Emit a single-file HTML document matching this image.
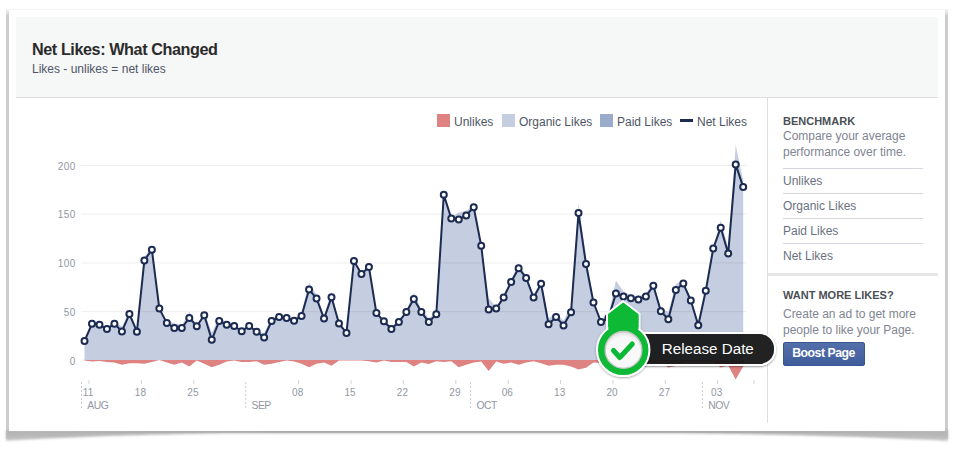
<!DOCTYPE html>
<html><head><meta charset="utf-8">
<style>
*{margin:0;padding:0;box-sizing:border-box}
html,body{width:954px;height:455px;overflow:hidden;background:#fff}
body{position:relative;font-family:"Liberation Sans",sans-serif}
.abs{position:absolute;white-space:nowrap}
#card{position:absolute;left:9px;top:10px;width:936px;height:421px;background:#fff}
#header{position:absolute;left:16px;top:17px;width:922px;height:81px;background:#f6f7f7;border-bottom:1px solid #dcdee0}
.title{left:32px;top:39.6px;font-size:16.2px;letter-spacing:-0.42px;font-weight:bold;color:#2b2b2b;line-height:18px}
.sub{left:32px;top:62px;font-size:12px;color:#4e5665;line-height:14px}
.leg{font-size:12px;color:#4e5665;line-height:14px}
.sw{position:absolute;width:13px;height:13px}
#vdiv{position:absolute;left:767px;top:98px;width:1px;height:325px;background:#dcdee0}
.sb{font-size:12px;letter-spacing:-0.02px;color:#7f8592;line-height:16px}
.sbh{font-size:11px;font-weight:bold;color:#4b4f56;line-height:13px}
.sbl{position:absolute;left:783px;width:140px;height:1px;background:#d3d6dc}
.item{font-size:12px;color:#6a7180;line-height:14px}
</style></head><body>
<!-- shadow -->
<div style="position:absolute;left:6.2px;top:9px;width:2.8px;height:430px;background:linear-gradient(rgba(205,205,205,0.2),#cdcdcd 7px);filter:blur(0.5px)"></div>
<div style="position:absolute;left:945px;top:9px;width:2.8px;height:430px;background:linear-gradient(rgba(205,205,205,0.2),#cdcdcd 7px);filter:blur(0.5px)"></div>
<div style="position:absolute;left:8px;top:9px;width:938px;height:1px;background:#f5f5f5"></div>
<svg width="954" height="455" style="position:absolute;left:0;top:0">
<defs><linearGradient id="bsh" x1="0" y1="0" x2="0" y2="1"><stop offset="0" stop-color="#b2b2b2"/><stop offset="0.6" stop-color="#bababa"/><stop offset="1" stop-color="#cccccc"/></linearGradient>
<filter id="bl"><feGaussianBlur stdDeviation="0.8"/></filter><linearGradient id="mid" x1="0" y1="0" x2="1" y2="0"><stop offset="0" stop-color="#999" stop-opacity="0"/><stop offset="0.3" stop-color="#999" stop-opacity="1"/><stop offset="0.7" stop-color="#999" stop-opacity="1"/><stop offset="1" stop-color="#999" stop-opacity="0"/></linearGradient></defs>
<path d="M6,430 L948,430 L948,441.00 L948,441.00 L942,440.67 L936,440.36 L930,440.05 L924,439.75 L918,439.46 L912,439.19 L906,438.92 L900,438.66 L894,438.41 L888,438.17 L882,437.93 L876,437.70 L870,437.48 L864,437.27 L858,437.07 L852,436.87 L846,436.67 L840,436.49 L834,436.31 L828,436.13 L822,435.97 L816,435.80 L810,435.65 L804,435.49 L798,435.35 L792,435.20 L786,435.07 L780,434.93 L774,434.80 L768,434.68 L762,434.56 L756,434.44 L750,434.33 L744,434.22 L738,434.11 L732,434.01 L726,433.91 L720,433.82 L714,433.73 L708,433.64 L702,433.55 L696,433.47 L690,433.39 L684,433.31 L678,433.23 L672,433.20 L666,433.20 L660,433.20 L654,433.20 L648,433.20 L642,433.20 L636,433.20 L630,433.20 L624,433.20 L618,433.20 L612,433.20 L606,433.20 L600,433.20 L594,433.20 L588,433.20 L582,433.20 L576,433.20 L570,433.20 L564,433.20 L558,433.20 L552,433.20 L546,433.20 L540,433.20 L534,433.20 L528,433.20 L522,433.20 L516,433.20 L510,433.20 L504,433.20 L498,433.20 L492,433.20 L486,433.20 L480,433.20 L474,433.20 L468,433.20 L462,433.20 L456,433.20 L450,433.20 L444,433.20 L438,433.20 L432,433.20 L426,433.20 L420,433.20 L414,433.20 L408,433.20 L402,433.20 L396,433.20 L390,433.20 L384,433.20 L378,433.20 L372,433.20 L366,433.20 L360,433.20 L354,433.20 L348,433.20 L342,433.20 L336,433.20 L330,433.20 L324,433.20 L318,433.20 L312,433.20 L306,433.20 L300,433.20 L294,433.20 L288,433.20 L282,433.20 L276,433.20 L270,433.20 L264,433.20 L258,433.20 L252,433.20 L246,433.20 L240,433.20 L234,433.20 L228,433.28 L222,433.37 L216,433.47 L210,433.57 L204,433.67 L198,433.78 L192,433.89 L186,434.01 L180,434.13 L174,434.26 L168,434.40 L162,434.53 L156,434.68 L150,434.83 L144,434.99 L138,435.15 L132,435.32 L126,435.49 L120,435.68 L114,435.87 L108,436.07 L102,436.27 L96,436.49 L90,436.71 L84,436.95 L78,437.19 L72,437.44 L66,437.70 L60,437.98 L54,438.26 L48,438.56 L42,438.87 L36,439.19 L30,439.52 L24,439.87 L18,440.23 L12,440.61 L6,441.00 Z" fill="url(#bsh)" filter="url(#bl)"/>
<rect x="9" y="430.5" width="936" height="2" fill="url(#mid)" filter="url(#bl)"/>
</svg>
<div id="card"></div>
<div id="header"></div>
<div class="abs title">Net Likes: What Changed</div>
<div class="abs sub">Likes - unlikes = net likes</div>

<!-- legend -->
<div class="sw" style="left:437px;top:114px;background:#de8282"></div>
<div class="abs leg" style="left:454px;top:115px">Unlikes</div>
<div class="sw" style="left:502px;top:114px;background:#c5cde0"></div>
<div class="abs leg" style="left:519px;top:115px">Organic Likes</div>
<div class="sw" style="left:600px;top:114px;background:#9aabcc"></div>
<div class="abs leg" style="left:617px;top:115px">Paid Likes</div>
<div style="position:absolute;left:680px;top:119px;width:13px;height:3px;background:#1c2b52"></div>
<div class="abs leg" style="left:697px;top:115px">Net Likes</div>

<svg width="954" height="455" viewBox="0 0 954 455" style="position:absolute;left:0;top:0">
<path d="M84.5,360.1 L84.5,340.6 L91.98,322.3 L99.47,324 L106.95,327.2 L114.44,321.3 L121.93,326.8 L129.41,311 L136.9,328.6 L144.38,256.8 L151.87,247.8 L159.35,308.6 L166.84,320.6 L174.32,323.3 L181.81,325.4 L189.29,311.7 L196.78,325.8 L204.26,311.6 L211.75,332.7 L219.23,316.5 L226.72,323.3 L234.2,325.6 L241.69,329.4 L249.17,324.1 L256.65,330.7 L264.14,332.9 L271.62,317.4 L279.11,315.1 L286.6,317.7 L294.08,319.3 L301.56,312.3 L309.05,282.5 L316.53,294.8 L324.02,316.1 L331.5,291.6 L338.99,323.2 L346.48,332.5 L353.96,260.6 L361.44,273.6 L368.93,265.9 L376.42,310.6 L383.9,320.9 L391.38,327.1 L398.87,320 L406.36,310.1 L413.84,292.7 L421.32,309.6 L428.81,318.1 L436.3,313.1 L443.78,192.8 L451.27,217.3 L458.75,212.5 L466.24,210.8 L473.72,204.8 L481.21,244.2 L488.69,298.5 L496.18,307.1 L503.66,293.9 L511.15,279.4 L518.63,263.6 L526.12,275.4 L533.6,296.4 L541.09,280.6 L548.57,318.6 L556.06,312.4 L563.54,320.8 L571.03,305.9 L578.51,203.7 L586,256.4 L593.48,300 L600.97,319 L608.45,315 L615.94,280.4 L623.42,291.5 L630.9,295.3 L638.39,296.6 L645.88,293.6 L653.36,282.8 L660.85,308.3 L668.33,311.9 L675.82,283.9 L683.3,281.1 L690.79,298.5 L698.27,323.3 L705.75,288.8 L713.24,246.5 L720.73,220.4 L728.21,247.9 L735.7,145 L743.18,180.6 L743.18,360.1Z" fill="#c5cde0"/>
<path d="M84.5,360.1 L84.5,360.5 L91.98,361.6 L99.47,360.9 L106.95,362 L114.44,362.6 L121.93,364.7 L129.41,363.2 L136.9,363.2 L144.38,363.7 L151.87,362 L159.35,360.1 L166.84,362.6 L174.32,364.7 L181.81,362.6 L189.29,366.4 L196.78,360.5 L204.26,363.7 L211.75,367.2 L219.23,364.7 L226.72,361.6 L234.2,360.5 L241.69,362 L249.17,362 L256.65,361.2 L264.14,364.7 L271.62,363.7 L279.11,362.1 L286.6,360.5 L294.08,361.6 L301.56,363.7 L309.05,367.2 L316.53,363.7 L324.02,362.6 L331.5,365.8 L338.99,360.5 L346.48,360.5 L353.96,360.5 L361.44,360.5 L368.93,361.2 L376.42,362.6 L383.9,360.5 L391.38,362 L398.87,362 L406.36,362 L413.84,366.4 L421.32,362.6 L428.81,364.1 L436.3,361.2 L443.78,362 L451.27,361.2 L458.75,367.2 L466.24,364.7 L473.72,362.6 L481.21,361.6 L488.69,371 L496.18,361.6 L503.66,363.7 L511.15,362.6 L518.63,364.7 L526.12,362.6 L533.6,361.2 L541.09,363.2 L548.57,365.8 L556.06,364.7 L563.54,364.7 L571.03,366.4 L578.51,369.5 L586,367.8 L593.48,362.6 L600.97,363.1 L608.45,363.1 L615.94,373.3 L623.42,365.1 L630.9,363.1 L638.39,363.1 L645.88,363.1 L653.36,363.1 L660.85,363.1 L668.33,367.4 L675.82,366.1 L683.3,362.6 L690.79,362.1 L698.27,362.1 L705.75,362.1 L713.24,362.1 L720.73,367.4 L728.21,365.6 L735.7,379.5 L743.18,366.6 L743.18,360.1Z" fill="#de8282"/>
<rect x="81" y="164.9" width="666" height="1" fill="rgba(0,0,0,0.07)"/>
<rect x="81" y="213.65" width="666" height="1" fill="rgba(0,0,0,0.07)"/>
<rect x="81" y="262.4" width="666" height="1" fill="rgba(0,0,0,0.07)"/>
<rect x="81" y="311.15" width="666" height="1" fill="rgba(0,0,0,0.07)"/>
<rect x="81" y="359.6" width="4" height="1" fill="rgba(0,0,0,0.07)"/>
<text x="75.6" y="169.5" text-anchor="end" font-size="10" letter-spacing="0.35" fill="#9197a3">200</text>
<text x="75.6" y="218.25" text-anchor="end" font-size="10" letter-spacing="0.35" fill="#9197a3">150</text>
<text x="75.6" y="267" text-anchor="end" font-size="10" letter-spacing="0.35" fill="#9197a3">100</text>
<text x="75.6" y="315.75" text-anchor="end" font-size="10" letter-spacing="0.35" fill="#9197a3">50</text>
<text x="75.6" y="364.5" text-anchor="end" font-size="10" letter-spacing="0.35" fill="#9197a3">0</text>
<rect x="88.5" y="380" width="1" height="4" fill="#cfd2d8"/>
<text x="88.1" y="396" text-anchor="middle" font-size="10" letter-spacing="0.1" fill="#9197a3">11</text>
<rect x="140.9" y="380" width="1" height="4" fill="#cfd2d8"/>
<text x="140.5" y="396" text-anchor="middle" font-size="10" letter-spacing="0.1" fill="#9197a3">18</text>
<rect x="193.3" y="380" width="1" height="4" fill="#cfd2d8"/>
<text x="192.9" y="396" text-anchor="middle" font-size="10" letter-spacing="0.1" fill="#9197a3">25</text>
<rect x="298.1" y="380" width="1" height="4" fill="#cfd2d8"/>
<text x="297.7" y="396" text-anchor="middle" font-size="10" letter-spacing="0.1" fill="#9197a3">08</text>
<rect x="350.5" y="380" width="1" height="4" fill="#cfd2d8"/>
<text x="350.1" y="396" text-anchor="middle" font-size="10" letter-spacing="0.1" fill="#9197a3">15</text>
<rect x="402.9" y="380" width="1" height="4" fill="#cfd2d8"/>
<text x="402.5" y="396" text-anchor="middle" font-size="10" letter-spacing="0.1" fill="#9197a3">22</text>
<rect x="455.3" y="380" width="1" height="4" fill="#cfd2d8"/>
<text x="454.9" y="396" text-anchor="middle" font-size="10" letter-spacing="0.1" fill="#9197a3">29</text>
<rect x="507.7" y="380" width="1" height="4" fill="#cfd2d8"/>
<text x="507.3" y="396" text-anchor="middle" font-size="10" letter-spacing="0.1" fill="#9197a3">06</text>
<rect x="560.1" y="380" width="1" height="4" fill="#cfd2d8"/>
<text x="559.7" y="396" text-anchor="middle" font-size="10" letter-spacing="0.1" fill="#9197a3">13</text>
<rect x="612.5" y="380" width="1" height="4" fill="#cfd2d8"/>
<text x="612.1" y="396" text-anchor="middle" font-size="10" letter-spacing="0.1" fill="#9197a3">20</text>
<rect x="664.8" y="380" width="1" height="4" fill="#cfd2d8"/>
<text x="664.4" y="396" text-anchor="middle" font-size="10" letter-spacing="0.1" fill="#9197a3">27</text>
<rect x="717.1" y="380" width="1" height="4" fill="#cfd2d8"/>
<text x="716.7" y="396" text-anchor="middle" font-size="10" letter-spacing="0.1" fill="#9197a3">03</text>
<rect x="753.5" y="380" width="1" height="4" fill="#cfd2d8"/>
<rect x="81" y="382" width="1" height="2" fill="#c9ccd3"/>
<rect x="81" y="386" width="1" height="2" fill="#c9ccd3"/>
<rect x="81" y="390" width="1" height="2" fill="#c9ccd3"/>
<rect x="81" y="394" width="1" height="2" fill="#c9ccd3"/>
<rect x="81" y="398" width="1" height="2" fill="#c9ccd3"/>
<rect x="81" y="402" width="1" height="2" fill="#c9ccd3"/>
<rect x="81" y="406" width="1" height="2" fill="#c9ccd3"/>
<text x="87.3" y="408.6" font-size="10.4" letter-spacing="-0.55" fill="#9197a3">AUG</text>
<rect x="245.3" y="382" width="1" height="2" fill="#c9ccd3"/>
<rect x="245.3" y="386" width="1" height="2" fill="#c9ccd3"/>
<rect x="245.3" y="390" width="1" height="2" fill="#c9ccd3"/>
<rect x="245.3" y="394" width="1" height="2" fill="#c9ccd3"/>
<rect x="245.3" y="398" width="1" height="2" fill="#c9ccd3"/>
<rect x="245.3" y="402" width="1" height="2" fill="#c9ccd3"/>
<rect x="245.3" y="406" width="1" height="2" fill="#c9ccd3"/>
<text x="251.6" y="408.6" font-size="10.4" letter-spacing="-0.55" fill="#9197a3">SEP</text>
<rect x="470.1" y="382" width="1" height="2" fill="#c9ccd3"/>
<rect x="470.1" y="386" width="1" height="2" fill="#c9ccd3"/>
<rect x="470.1" y="390" width="1" height="2" fill="#c9ccd3"/>
<rect x="470.1" y="394" width="1" height="2" fill="#c9ccd3"/>
<rect x="470.1" y="398" width="1" height="2" fill="#c9ccd3"/>
<rect x="470.1" y="402" width="1" height="2" fill="#c9ccd3"/>
<rect x="470.1" y="406" width="1" height="2" fill="#c9ccd3"/>
<text x="476.4" y="408.6" font-size="10.4" letter-spacing="-0.55" fill="#9197a3">OCT</text>
<rect x="701.9" y="382" width="1" height="2" fill="#c9ccd3"/>
<rect x="701.9" y="386" width="1" height="2" fill="#c9ccd3"/>
<rect x="701.9" y="390" width="1" height="2" fill="#c9ccd3"/>
<rect x="701.9" y="394" width="1" height="2" fill="#c9ccd3"/>
<rect x="701.9" y="398" width="1" height="2" fill="#c9ccd3"/>
<rect x="701.9" y="402" width="1" height="2" fill="#c9ccd3"/>
<rect x="701.9" y="406" width="1" height="2" fill="#c9ccd3"/>
<text x="708.2" y="408.6" font-size="10.4" letter-spacing="-0.55" fill="#9197a3">NOV</text>
<path d="M84.5,341 L91.98,323.8 L99.47,324.8 L106.95,329.1 L114.44,323.8 L121.93,331.4 L129.41,314.1 L136.9,331.7 L144.38,260.4 L151.87,249.7 L159.35,308.6 L166.84,323.1 L174.32,327.9 L181.81,327.9 L189.29,318 L196.78,326.2 L204.26,315.2 L211.75,339.8 L219.23,321.1 L226.72,324.8 L234.2,326 L241.69,331.3 L249.17,326 L256.65,331.8 L264.14,337.5 L271.62,321 L279.11,317.1 L286.6,318.1 L294.08,320.8 L301.56,315.9 L309.05,289.6 L316.53,298.4 L324.02,318.6 L331.5,297.3 L338.99,323.6 L346.48,332.9 L353.96,261 L361.44,274 L368.93,267 L376.42,313.1 L383.9,321.3 L391.38,329 L398.87,321.9 L406.36,312 L413.84,299 L421.32,312.1 L428.81,322.1 L436.3,314.2 L443.78,194.7 L451.27,218.4 L458.75,219.6 L466.24,215.4 L473.72,207.3 L481.21,245.7 L488.69,309.4 L496.18,308.6 L503.66,297.5 L511.15,281.9 L518.63,268.2 L526.12,277.9 L533.6,297.5 L541.09,283.7 L548.57,324.3 L556.06,317 L563.54,325.4 L571.03,312.2 L578.51,213.1 L586,264.1 L593.48,302.5 L600.97,322 L608.45,318 L615.94,293.6 L623.42,296.5 L630.9,298.3 L638.39,299.6 L645.88,296.6 L653.36,285.8 L660.85,311.3 L668.33,319.2 L675.82,289.9 L683.3,283.6 L690.79,300.5 L698.27,325.3 L705.75,290.8 L713.24,248.5 L720.73,227.7 L728.21,253.4 L735.7,164.4 L743.18,187.1" fill="none" stroke="#1c2b52" stroke-width="2" stroke-linejoin="round"/>
<g fill="#fff" stroke="#1c2b52" stroke-width="2"><circle cx="84.5" cy="341" r="3"/><circle cx="91.98" cy="323.8" r="3"/><circle cx="99.47" cy="324.8" r="3"/><circle cx="106.95" cy="329.1" r="3"/><circle cx="114.44" cy="323.8" r="3"/><circle cx="121.93" cy="331.4" r="3"/><circle cx="129.41" cy="314.1" r="3"/><circle cx="136.9" cy="331.7" r="3"/><circle cx="144.38" cy="260.4" r="3"/><circle cx="151.87" cy="249.7" r="3"/><circle cx="159.35" cy="308.6" r="3"/><circle cx="166.84" cy="323.1" r="3"/><circle cx="174.32" cy="327.9" r="3"/><circle cx="181.81" cy="327.9" r="3"/><circle cx="189.29" cy="318" r="3"/><circle cx="196.78" cy="326.2" r="3"/><circle cx="204.26" cy="315.2" r="3"/><circle cx="211.75" cy="339.8" r="3"/><circle cx="219.23" cy="321.1" r="3"/><circle cx="226.72" cy="324.8" r="3"/><circle cx="234.2" cy="326" r="3"/><circle cx="241.69" cy="331.3" r="3"/><circle cx="249.17" cy="326" r="3"/><circle cx="256.65" cy="331.8" r="3"/><circle cx="264.14" cy="337.5" r="3"/><circle cx="271.62" cy="321" r="3"/><circle cx="279.11" cy="317.1" r="3"/><circle cx="286.6" cy="318.1" r="3"/><circle cx="294.08" cy="320.8" r="3"/><circle cx="301.56" cy="315.9" r="3"/><circle cx="309.05" cy="289.6" r="3"/><circle cx="316.53" cy="298.4" r="3"/><circle cx="324.02" cy="318.6" r="3"/><circle cx="331.5" cy="297.3" r="3"/><circle cx="338.99" cy="323.6" r="3"/><circle cx="346.48" cy="332.9" r="3"/><circle cx="353.96" cy="261" r="3"/><circle cx="361.44" cy="274" r="3"/><circle cx="368.93" cy="267" r="3"/><circle cx="376.42" cy="313.1" r="3"/><circle cx="383.9" cy="321.3" r="3"/><circle cx="391.38" cy="329" r="3"/><circle cx="398.87" cy="321.9" r="3"/><circle cx="406.36" cy="312" r="3"/><circle cx="413.84" cy="299" r="3"/><circle cx="421.32" cy="312.1" r="3"/><circle cx="428.81" cy="322.1" r="3"/><circle cx="436.3" cy="314.2" r="3"/><circle cx="443.78" cy="194.7" r="3"/><circle cx="451.27" cy="218.4" r="3"/><circle cx="458.75" cy="219.6" r="3"/><circle cx="466.24" cy="215.4" r="3"/><circle cx="473.72" cy="207.3" r="3"/><circle cx="481.21" cy="245.7" r="3"/><circle cx="488.69" cy="309.4" r="3"/><circle cx="496.18" cy="308.6" r="3"/><circle cx="503.66" cy="297.5" r="3"/><circle cx="511.15" cy="281.9" r="3"/><circle cx="518.63" cy="268.2" r="3"/><circle cx="526.12" cy="277.9" r="3"/><circle cx="533.6" cy="297.5" r="3"/><circle cx="541.09" cy="283.7" r="3"/><circle cx="548.57" cy="324.3" r="3"/><circle cx="556.06" cy="317" r="3"/><circle cx="563.54" cy="325.4" r="3"/><circle cx="571.03" cy="312.2" r="3"/><circle cx="578.51" cy="213.1" r="3"/><circle cx="586" cy="264.1" r="3"/><circle cx="593.48" cy="302.5" r="3"/><circle cx="600.97" cy="322" r="3"/><circle cx="608.45" cy="318" r="3"/><circle cx="615.94" cy="293.6" r="3"/><circle cx="623.42" cy="296.5" r="3"/><circle cx="630.9" cy="298.3" r="3"/><circle cx="638.39" cy="299.6" r="3"/><circle cx="645.88" cy="296.6" r="3"/><circle cx="653.36" cy="285.8" r="3"/><circle cx="660.85" cy="311.3" r="3"/><circle cx="668.33" cy="319.2" r="3"/><circle cx="675.82" cy="289.9" r="3"/><circle cx="683.3" cy="283.6" r="3"/><circle cx="690.79" cy="300.5" r="3"/><circle cx="698.27" cy="325.3" r="3"/><circle cx="705.75" cy="290.8" r="3"/><circle cx="713.24" cy="248.5" r="3"/><circle cx="720.73" cy="227.7" r="3"/><circle cx="728.21" cy="253.4" r="3"/><circle cx="735.7" cy="164.4" r="3"/><circle cx="743.18" cy="187.1" r="3"/></g>
</svg>

<div id="vdiv"></div>
<!-- sidebar -->
<div class="abs sbh" style="left:783px;top:115px">BENCHMARK</div>
<div class="abs sb" style="left:783px;top:128px">Compare your average<br>performance over time.</div>
<div class="sbl" style="top:168px"></div>
<div class="abs item" style="left:783px;top:174px">Unlikes</div>
<div class="sbl" style="top:193px"></div>
<div class="abs item" style="left:783px;top:199px">Organic Likes</div>
<div class="sbl" style="top:218px"></div>
<div class="abs item" style="left:783px;top:224px">Paid Likes</div>
<div class="sbl" style="top:243px"></div>
<div class="abs item" style="left:783px;top:249px">Net Likes</div>
<div style="position:absolute;left:768px;top:273px;width:170px;height:3px;background:#e6e6e6"></div>
<div class="abs sbh" style="left:783px;top:289px">WANT MORE LIKES?</div>
<div class="abs sb" style="left:783px;top:306px">Create an ad to get more<br>people to like your Page.</div>
<div style="position:absolute;left:783px;top:342px;width:82px;height:24px;border:1px solid #3a5590;border-radius:2px;background:linear-gradient(#5470ab,#3f5c9b)"></div>
<div class="abs" style="left:792.2px;top:346.3px;font-size:12.3px;letter-spacing:-0.5px;font-weight:bold;color:#fff;line-height:14px">Boost Page</div>

<!-- tooltip -->
<div style="position:absolute;left:620px;top:332.3px;width:155.5px;height:33.3px;border:2px solid #fff;border-radius:0 16.3px 16.3px 0;background:rgba(22,22,22,0.95);box-shadow:0 1px 2px rgba(0,0,0,0.4)"></div>
<div class="abs" style="left:661.8px;top:339.8px;font-size:15.2px;color:#fff;line-height:17px">Release Date</div>
<!-- pin -->
<svg width="954" height="455" style="position:absolute;left:0;top:0">
<defs><filter id="ps" x="-30%" y="-30%" width="160%" height="160%"><feDropShadow dx="0" dy="1" stdDeviation="1" flood-opacity="0.35"/></filter></defs>
<g filter="url(#ps)">
<path d="M623.2,301.2 L639.5,313.8 L639.5,328 L607,328 L607,313.8 Z" fill="#08b935" stroke="#fff" stroke-width="2" stroke-linejoin="miter"/>
<circle cx="623.2" cy="349.9" r="26.2" fill="#08b935" stroke="#fff" stroke-width="2"/>
<path d="M608.3,329.5 L608.3,314.6 L623.2,303 L638.4,314.6 L638.4,329.5 Z" fill="#08b935"/>
</g>
<defs><radialGradient id="ig" cx="0.5" cy="0.58" r="0.55"><stop offset="0.8" stop-color="#f8f8f8"/><stop offset="1" stop-color="#e2e2e2"/></radialGradient></defs><circle cx="623.5" cy="349.9" r="18.4" fill="url(#ig)" stroke="#c4c4c4" stroke-width="1.3"/>
<path d="M613.5,350.5 L619.8,357.5 L632.3,344" fill="none" stroke="#08b935" stroke-width="5" stroke-linecap="round" stroke-linejoin="round"/>
</svg>
</body></html>
